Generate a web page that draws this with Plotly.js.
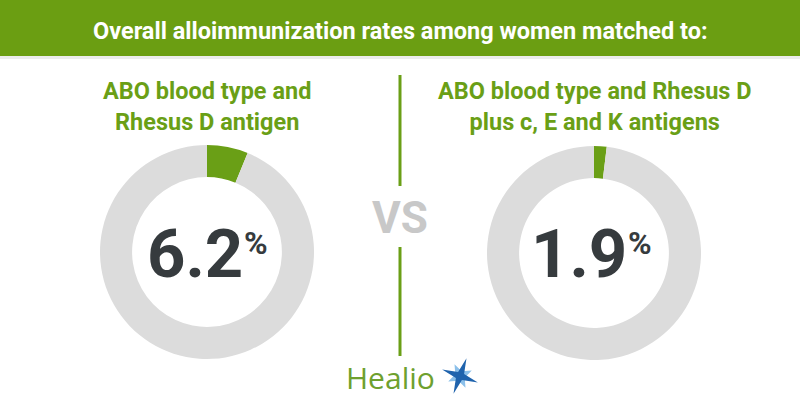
<!DOCTYPE html>
<html>
<head>
<meta charset="utf-8">
<script src="https://cdn.plot.ly/plotly-3.0.1.min.js"></script>
<style>html,body{margin:0;padding:0;background:#fff;}#chart{width:800px;height:420px;}</style>
</head>
<body>
<div id="chart"></div>
<script>
// ---- data ----
var headerTitle = "Overall alloimmunization rates among women matched to:";
var groupNames = ["ABO + RhD", "ABO + RhD + c, E, K"];
var rates = [6.2, 1.9];                       // percent alloimmunized
var leftLines = ["ABO blood type and", "Rhesus D antigen"];
var rightLines = ["ABO blood type and Rhesus D", "plus c, E and K antigens"];
var vsLabel = "VS";
var brandLabel = "Healio";

// ---- styling ----
var W = 800, H = 420;
var GREEN = "#6a9f16", HEADER = "#6b9e12", GRAY = "#dcdcdc", DARK = "#363b3e", VSG = "#c8c8c8";
function px(x) { return x / W; }
function py(y) { return 1 - y / H; }

var centers = [{x: 207, y: 252}, {x: 594, y: 253}];
var R = 107;

var traces = rates.map(function (v, i) {
  var c = centers[i];
  return {
    type: "pie",
    values: [v, 100 - v],
    labels: [groupNames[i] + " alloimmunized", groupNames[i] + " not alloimmunized"],
    marker: {colors: [GREEN, GRAY], line: {width: 0}},
    hole: 0.70,
    sort: false,
    direction: "clockwise",
    rotation: 0,
    textinfo: "none",
    hoverinfo: "label+value",
    domain: {x: [px(c.x - R), px(c.x + R)], y: [py(c.y + R), py(c.y - R)]}
  };
});

var ann = [];
ann.push({text: headerTitle, x: 0.5, y: py(31), xref: "paper", yref: "paper", showarrow: false,
  xanchor: "center", yanchor: "middle", font: {family: "Roboto", size: 23.5, color: "#ffffff", weight: 700}});

function blockAnn(lines, x, y) {
  return {text: lines.join("<br>"), x: px(x), y: py(y), xref: "paper", yref: "paper", showarrow: false,
    xanchor: "center", yanchor: "middle", align: "center",
    font: {family: "Roboto", size: 23.5, color: GREEN, weight: 700}};
}
ann.push(blockAnn(leftLines, 207, 106));
ann.push(blockAnn(rightLines, 594.5, 106));

var numRight = [245, 629];
rates.forEach(function (v, i) {
  ann.push({text: v.toFixed(1), x: px(numRight[i]), y: py(254), xref: "paper", yref: "paper", showarrow: false,
    xanchor: "right", yanchor: "middle", font: {family: "Roboto", size: 67, color: DARK, weight: 700}});
  ann.push({text: "%", x: px(numRight[i] - 3), y: py(243), xref: "paper", yref: "paper", showarrow: false,
    xanchor: "left", yanchor: "middle", font: {family: "Roboto", size: 32, color: DARK, weight: 700}});
});

ann.push({text: vsLabel, x: 0.5, y: py(218), xref: "paper", yref: "paper", showarrow: false,
  xanchor: "center", yanchor: "middle", font: {family: "Roboto", size: 44, color: VSG, weight: 700}});
ann.push({text: brandLabel, x: px(390), y: py(377), xref: "paper", yref: "paper", showarrow: false,
  xanchor: "center", yanchor: "middle", font: {family: "Open Sans", size: 30, color: "#6ea02e"}});

// star path helper (pixel coords -> paper)
function starPath(cx, cy, rOut, rIn, n, rotDeg) {
  var d = "";
  for (var k = 0; k < 2 * n; k++) {
    var r = (k % 2 === 0) ? rOut : rIn;
    var a = (rotDeg + k * 180 / n) * Math.PI / 180;
    var X = cx + r * Math.sin(a), Y = cy - r * Math.cos(a);
    d += (k === 0 ? "M" : "L") + px(X).toFixed(5) + "," + py(Y).toFixed(5);
  }
  return d + "Z";
}

var shapes = [
  {type: "rect", xref: "paper", yref: "paper", x0: 0, x1: 1, y0: py(56), y1: 1, fillcolor: HEADER, line: {width: 0}, layer: "below"},
  {type: "rect", xref: "paper", yref: "paper", x0: 0, x1: 1, y0: py(59), y1: py(56), fillcolor: "#ececec", line: {width: 0}, layer: "below"},
  {type: "line", xref: "paper", yref: "paper", x0: 0.5, x1: 0.5, y0: py(75), y1: py(186), line: {color: GREEN, width: 3}},
  {type: "line", xref: "paper", yref: "paper", x0: 0.5, x1: 0.5, y0: py(247), y1: py(356), line: {color: GREEN, width: 3}},
  {type: "path", xref: "paper", yref: "paper", path: starPath(460, 376, 13, 5, 4, 65), fillcolor: "#8cc0ea", line: {width: 0}},
  {type: "path", xref: "paper", yref: "paper", path: starPath(460, 376, 19, 4.5, 4, 20), fillcolor: "#1f63ad", line: {width: 0}}
];

var layout = {
  width: W, height: H, margin: {l: 0, r: 0, t: 0, b: 0},
  paper_bgcolor: "#ffffff", plot_bgcolor: "#ffffff",
  showlegend: false, annotations: ann, shapes: shapes
};
Plotly.newPlot("chart", traces, layout, {displayModeBar: false, staticPlot: true});
</script>
</body>
</html>
